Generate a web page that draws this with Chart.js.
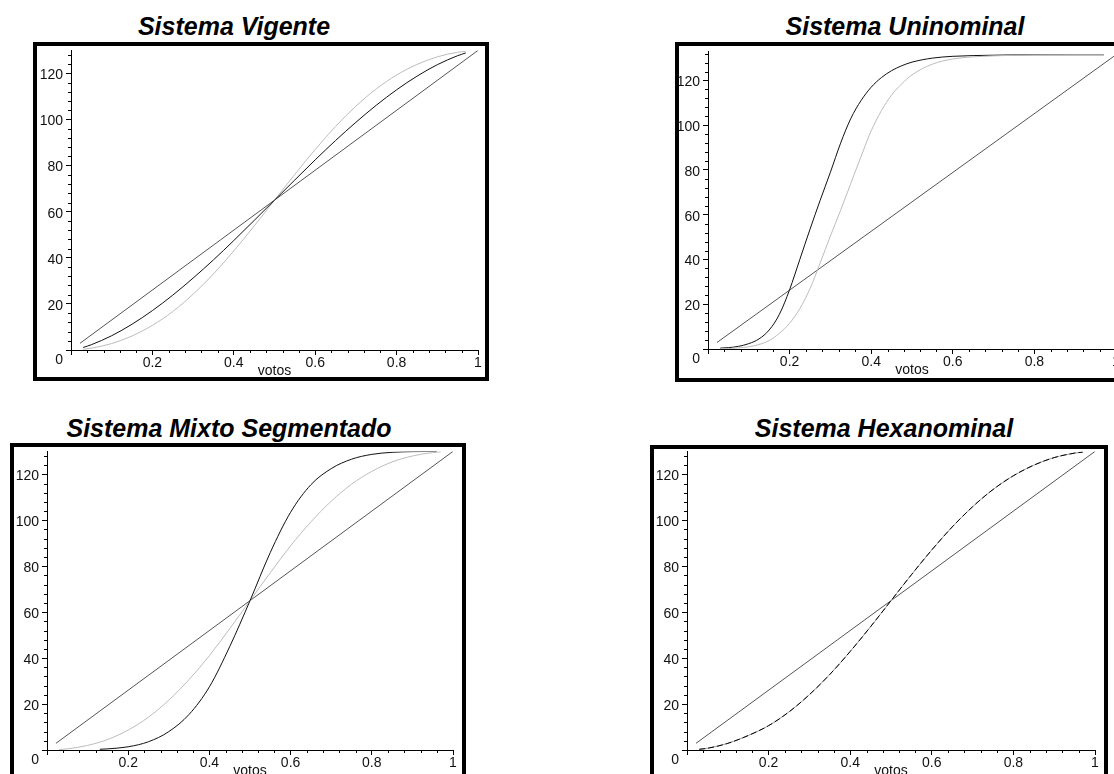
<!DOCTYPE html>
<html>
<head>
<meta charset="utf-8">
<script src="https://cdn.jsdelivr.net/npm/chart.js@4.4.1/dist/chart.umd.min.js"></script>
<style>
  body { margin: 0; width: 1114px; height: 774px; overflow: hidden; background: #fff; position: relative; }
  .marco { position: absolute; border: 4px solid #000; box-sizing: border-box; pointer-events: none; }
  .titulo { position: absolute; font: italic bold 25px "Liberation Sans", Arial, sans-serif; white-space: nowrap; line-height: 1; transform: translateX(-50%); }
  canvas { position: absolute; }
</style>
</head>
<body>

<div class="titulo" style="left:234px;top:14px">Sistema Vigente</div>
<div class="titulo" style="left:905px;top:14px">Sistema Uninominal</div>
<div class="titulo" style="left:229px;top:416px">Sistema Mixto Segmentado</div>
<div class="titulo" style="left:884px;top:416px">Sistema Hexanominal</div>

<canvas id="vigente" width="457" height="341" style="left:31px;top:39px"></canvas>
<canvas id="uninominal" width="458" height="339" style="left:668px;top:40px"></canvas>
<canvas id="mixto" width="456" height="340" style="left:7px;top:440px"></canvas>
<canvas id="hexanominal" width="458" height="340" style="left:647px;top:440px"></canvas>

<div class="marco" style="left:33px;top:42px;width:456px;height:339px"></div>
<div class="marco" style="left:675px;top:42px;width:500px;height:340px"></div>
<div class="marco" style="left:10px;top:443px;width:456px;height:400px"></div>
<div class="marco" style="left:650px;top:445px;width:458px;height:400px"></div>

<script>
// votos (fraccion) y escaños
const votos = [0.03, 0.05, 0.1, 0.15, 0.2, 0.25, 0.3, 0.35, 0.4, 0.45, 0.5, 0.55, 0.6, 0.65, 0.7, 0.75, 0.8, 0.85, 0.9, 0.95, 0.97];
const votosRecta = [0.022, 1];
const escanosRecta = [2.9, 130];

// Sistema Vigente
const vigenteNegro = [1.1, 2.3, 6.2, 11.2, 17.1, 23.8, 31.2, 39.1, 47.5, 56.2, 65, 73.8, 82.5, 90.9, 98.8, 106.2, 112.9, 118.8, 123.8, 127.7, 128.9];
const vigenteGris = [0.3, 0.8, 2.8, 6.1, 10.7, 16.7, 24.2, 33.0, 43.0, 53.8, 65, 76.2, 87.0, 97.0, 105.8, 113.3, 119.3, 123.9, 127.2, 129.2, 129.6];

// Sistema Uninominal
const votosUni = [0.03, 0.05, 0.075, 0.1, 0.125, 0.15, 0.175, 0.2, 0.225, 0.25, 0.275, 0.3, 0.325, 0.35, 0.375, 0.4, 0.425, 0.45, 0.475, 0.5, 0.55, 0.6, 0.7, 0.8, 0.9, 0.97];
const uniNegro = [0.4, 0.6, 1.2, 2.4, 4.5, 8.5, 15.5, 26.5, 40, 53.5, 66.5, 79, 92, 103, 111, 117, 121.3, 124.4, 126.6, 128.2, 130, 130.8, 131.3, 131.5, 131.5, 131.5];
const uniGris = [0.1, 0.2, 0.5, 1, 2, 3.8, 7, 11.5, 18, 27, 38.5, 50.5, 62, 74, 86, 97.5, 106.5, 113.5, 118.5, 122.5, 127.3, 129.6, 131, 131.4, 131.5, 131.5];
const escanosRectaUni = [2.9, 131.5];

// Sistema Mixto Segmentado
const votosMixtoNegro = [0.13, 0.15, 0.2, 0.25, 0.3, 0.35, 0.4, 0.45, 0.5, 0.55, 0.6, 0.65, 0.7, 0.75, 0.8, 0.85, 0.9, 0.96];
const mixtoNegro = [0.3, 0.5, 1.4, 3.6, 8, 15.5, 27.5, 45, 65, 86, 103.5, 115.5, 122.5, 126.6, 128.7, 129.6, 129.9, 130];
const mixtoGris = [0.2, 0.5, 2.0, 4.6, 8.7, 14.3, 21.7, 30.7, 41.1, 52.8, 65, 77.2, 88.9, 99.3, 108.3, 115.7, 121.3, 125.4, 128.0, 129.5, 129.8];

// Sistema Hexanominal
const hexa = [0.3, 0.75, 2.9, 6.3, 10.6, 16.6, 24.1, 32.9, 42.9, 53.7, 65, 76.3, 87.1, 97.1, 105.9, 113.4, 119.4, 124.0, 127.3, 129.25, 129.7];

const FUENTE = '"Liberation Sans", Arial, sans-serif';
Chart.defaults.font.family = FUENTE;
Chart.defaults.font.size = 14;
Chart.defaults.color = '#111';

function serie(xs, ys, color, extra) {
    return Object.assign({
        data: xs.map((x, i) => ({ x: x, y: ys[i] })),
        borderColor: color,
        borderWidth: 1,
        pointRadius: 0,
        fill: false,
        cubicInterpolationMode: 'monotone'
    }, extra || {});
}

// marcas menores de los ejes
const marcasMenores = {
    id: 'marcasMenores',
    afterDraw(chart) {
        const { ctx, chartArea, scales: { x, y } } = chart;
        ctx.save();
        ctx.strokeStyle = '#000';
        ctx.lineWidth = 1;
        ctx.beginPath();
        for (let i = 1; i < 25; i++) {
            if (i % 5 === 0) continue;
            const px = Math.round(x.getPixelForValue(i * 0.04)) + 0.5;
            ctx.moveTo(px, chartArea.bottom);
            ctx.lineTo(px, chartArea.bottom + 3);
        }
        for (let v = 4; v <= y.max; v += 4) {
            if (v % 20 === 0) continue;
            const py = Math.round(y.getPixelForValue(v)) + 0.5;
            ctx.moveTo(chartArea.left - 3, py);
            ctx.lineTo(chartArea.left, py);
        }
        ctx.stroke();
        ctx.restore();
    }
};

function grafico(id, conjuntos, yMax) {
    return new Chart(document.getElementById(id), {
        type: 'line',
        data: { datasets: conjuntos },
        options: {
            responsive: false,
            animation: false,
            devicePixelRatio: 1,
            layout: { padding: { top: 10, right: 10, left: 0, bottom: 0 } },
            plugins: { legend: { display: false }, tooltip: { enabled: false } },
            scales: {
                x: {
                    type: 'linear', min: 0, max: 1,
                    ticks: {
                        stepSize: 0.2, padding: 0, maxRotation: 0,
                        callback: v => v === 0 ? '' : String(Number(v.toFixed(1)))
                    },
                    grid: { drawOnChartArea: false, drawTicks: true, tickLength: 5, tickColor: '#000' },
                    border: { display: true, color: '#000', width: 1 },
                    title: { display: true, text: 'votos', font: { size: 14 }, padding: { top: 0, bottom: 0 } },
                    afterFit: s => { s.height = 30; }
                },
                y: {
                    type: 'linear', min: 0, max: yMax,
                    ticks: {
                        stepSize: 20, padding: 3, includeBounds: false, labelOffset: 2,
                        // el 0 del eje vertical va un poco más abajo
                        callback: v => v === 0 ? ['', '0'] : String(v)
                    },
                    grid: { drawOnChartArea: false, drawTicks: true, tickLength: 5, tickColor: '#000' },
                    border: { display: true, color: '#000', width: 1 },
                    afterFit: s => { s.width = 40; }
                }
            }
        },
        plugins: [marcasMenores]
    });
}

const RECTA = '#555555';
const NEGRO = '#111111';
const GRIS = '#bcbcbc';

grafico('vigente', [
    serie(votos, vigenteNegro, NEGRO),
    serie(votos, vigenteGris, GRIS),
    serie(votosRecta, escanosRecta, RECTA)
], 130);

grafico('uninominal', [
    serie(votosUni, uniGris, GRIS),
    serie(votosUni, uniNegro, NEGRO),
    serie(votosRecta, escanosRectaUni, RECTA)
], 133);

grafico('mixto', [
    serie(votosMixtoNegro, mixtoNegro, NEGRO),
    serie(votos, mixtoGris, GRIS),
    serie(votosRecta, escanosRecta, RECTA)
], 130);

grafico('hexanominal', [
    serie(votos, hexa, '#000000', { borderDash: [6, 3] }),
    serie(votos, hexa, '#9a9a9a'),
    serie(votosRecta, escanosRecta, RECTA)
], 130);
</script>
</body>
</html>
